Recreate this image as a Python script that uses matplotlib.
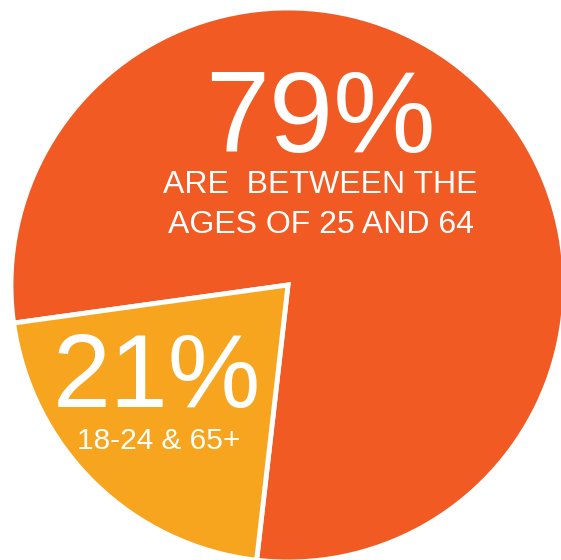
import matplotlib
matplotlib.use("Agg")
import matplotlib.pyplot as plt

# Data
categories = ["Ages 25-64", "18-24 & 65+"]
values = [79, 21]
big_labels = ["79%", "21%"]
sub_labels = ["ARE  BETWEEN THE\nAGES OF 25 AND 64", "18-24 & 65+"]
colors = ["#F15A22", "#F7A51E"]

plt.rcParams['font.family'] = ['Liberation Sans', 'DejaVu Sans']

W, H = 561, 560
fig = plt.figure(figsize=(W / 100, H / 100), dpi=100)
ax = fig.add_axes([0, 0, 1, 1])

ax.pie(values, colors=colors, startangle=263.5, counterclock=True,
       center=(288, 275), radius=277, frame=True,
       wedgeprops=dict(edgecolor='white', linewidth=3.5))

ax.set_xlim(0, W)
ax.set_ylim(0, H)
ax.set_aspect('equal', adjustable='datalim')
ax.axis('off')

# Big label for 79%
ax.text(320, 408, big_labels[0], color='white', fontsize=83,
        ha='center', va='baseline')
line1, line2 = sub_labels[0].split("\n")
ax.text(320, 367, line1, color='white', fontsize=23, ha='center', va='baseline')
ax.text(321, 327, line2, color='white', fontsize=23, ha='center', va='baseline')

# Label for 21%
ax.text(157, 153, big_labels[1], color='white', fontsize=75,
        ha='center', va='baseline')
ax.text(159, 111, sub_labels[1], color='white', fontsize=21.5,
        ha='center', va='baseline')

fig.savefig("out.png", dpi=100, facecolor='white')
